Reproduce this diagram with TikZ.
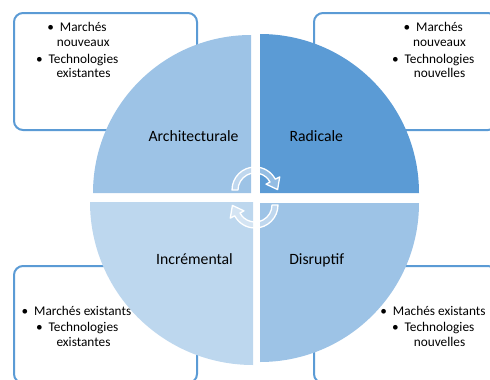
\documentclass[tikz,border=0pt]{standalone}
\usepackage{fontspec}
\setmainfont{Carlito}
\definecolor{boxblue}{HTML}{5B9BD5}
\definecolor{qmid}{HTML}{9DC3E6}
\definecolor{qdark}{HTML}{5B9BD5}
\definecolor{qlight}{HTML}{BDD7EE}
\begin{document}
\begin{tikzpicture}[x=1pt,y=-1pt,
  box/.style={draw=boxblue, line width=2pt, rounded corners=9pt, fill=white, minimum width=183pt, minimum height=117pt, inner sep=0pt},
  txt/.style={inner sep=0pt, anchor=base, font=\fontsize{13.3}{16}\selectfont, text=black},
  lbl/.style={inner sep=0pt, anchor=base, font=\fontsize{15.7}{19}\selectfont, text=black},
  cyc/.style={fill=white, fill opacity=0.35, draw=white, draw opacity=1, line width=1.3pt, line join=round}]
\useasboundingbox (0,0) rectangle (490,380);
\clip (0,0) rectangle (490,380);
% boxes
\node[box] (boxTL) at (105.5,71.5) {};
\node[box] (boxTR) at (405.5,71.5) {};
\node[box] (boxBL) at (105.5,324.5) {};
\node[box] (boxBR) at (405.5,324.5) {};
% box texts
\node[txt] (tl1) at (83.3,31.7) {Marchés};
\node[txt] (tl2) at (83.3,46) {nouveaux};
\node[txt] (tl3) at (83.5,63) {Technologies};
\node[txt] (tl4) at (83.5,77.7) {existantes};
\node[txt] (tlb1) at ([xshift=-9pt]tl1.base west) {•};
\node[txt] (tlb3) at ([xshift=-9pt]tl3.base west) {•};
\node[txt] (tr1) at (439.5,31.7) {Marchés};
\node[txt] (tr2) at (439.5,46) {nouveaux};
\node[txt] (tr3) at (439.5,63) {Technologies};
\node[txt] (tr4) at (439.5,77.7) {nouvelles};
\node[txt] (trb1) at ([xshift=-9pt]tr1.base west) {•};
\node[txt] (trb3) at ([xshift=-9pt]tr3.base west) {•};
\node[txt] (bl1) at (82.7,315) {Marchés existants};
\node[txt] (bl2) at (83.5,331.7) {Technologies};
\node[txt] (bl3) at (83.5,346.7) {existantes};
\node[txt] (blb1) at ([xshift=-9pt]bl1.base west) {•};
\node[txt] (blb2) at ([xshift=-9pt]bl2.base west) {•};
\node[txt] (br1) at (439.3,315) {Machés existants};
\node[txt] (br2) at (439.5,331.7) {Technologies};
\node[txt] (br3) at (439.5,346.7) {nouvelles};
\node[txt] (brb1) at ([xshift=-9pt]br1.base west) {•};
\node[txt] (brb2) at ([xshift=-9pt]br2.base west) {•};
% quadrants
\fill[qmid] (251,193) -- (93,193) arc[start angle=180, end angle=270, radius=158] -- cycle;
\fill[qdark] (260,193) -- (260,34) arc[start angle=270, end angle=360, radius=159] -- cycle;
\fill[qmid] (260,203) -- (419,203) arc[start angle=0, end angle=90, radius=159] -- cycle;
\fill[qlight] (253,202) -- (253,365) arc[start angle=90, end angle=180, radius=163] -- cycle;
% labels
\node[lbl] (arch) at (193.5,141.7) {Architecturale};
\node[lbl] (rad) at (316.3,141.7) {Radicale};
\node[lbl] (inc) at (194.5,264) {Incrémental};
\node[lbl] (dis) at (316.7,264) {Disruptif};
% cycle arrows
\begin{scope}[shift={(255,190)}, y=1pt]
  \path[cyc] (180:23) arc[start angle=180, end angle=28, radius=23] -- (28:28) -- (22.6,0.4) -- (28:12.5) -- (28:17) arc[start angle=28, end angle=180, radius=17] -- cycle;
\end{scope}
\begin{scope}[shift={(255,205)}, y=1pt, rotate=180]
  \path[cyc] (180:23) arc[start angle=180, end angle=28, radius=23] -- (28:28) -- (22.6,0.4) -- (28:12.5) -- (28:17) arc[start angle=28, end angle=180, radius=17] -- cycle;
\end{scope}
\end{tikzpicture}
\end{document}
